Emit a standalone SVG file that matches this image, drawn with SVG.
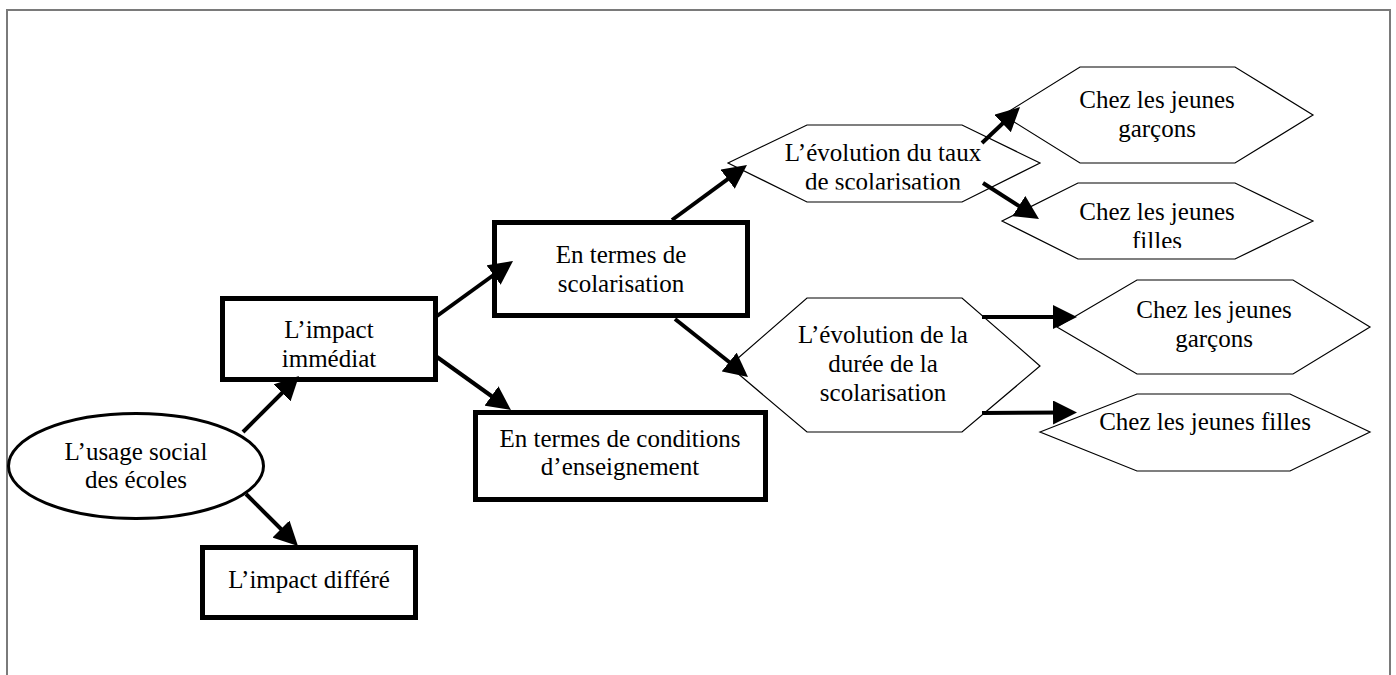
<svg xmlns="http://www.w3.org/2000/svg" width="1396" height="675" viewBox="0 0 1396 675">
<style>
.t{font-family:'Liberation Serif','DejaVu Serif',serif;font-size:25px;fill:#000;text-anchor:middle}
.box{fill:#fff;stroke:#000;stroke-width:5}
.hex{fill:#fff;stroke:#000;stroke-width:1.2;stroke-linejoin:miter}
.ell{fill:#fff;stroke:#000;stroke-width:3}
.con{fill:none;stroke:#000;stroke-width:4;marker-end:url(#ah)}
.frame{fill:none;stroke:#7a7a7a;stroke-width:2}
</style>
<defs>
<marker id="ah" markerUnits="userSpaceOnUse" markerWidth="24" markerHeight="24" refX="12" refY="12" orient="auto" viewBox="0 0 24 24">
<path d="M0,0 L24,12 L0,24 Z" fill="#000"/>
</marker>
<clipPath id="c1"><rect x="700" y="100" width="360" height="89.5"/></clipPath>
<clipPath id="c2"><rect x="990" y="170" width="340" height="78"/></clipPath>
</defs>
<rect width="1396" height="675" fill="#fff"/>
<path class="frame" d="M7,675 V10 H1390 V675"/>

<g id="nodes" font-family="Liberation Serif, DejaVu Serif, serif">
<g id="n-usage">
<ellipse class="ell" cx="136" cy="466" rx="127.5" ry="52.5"/>
<text class="t" x="136" y="460">L’usage social</text>
<text class="t" x="136" y="488">des écoles</text>
</g>

<g id="n-immediat">
<rect class="box" x="222.5" y="298.5" width="213" height="81"/>
<text class="t" x="329" y="338">L’impact</text>
<text class="t" x="329" y="367">immédiat</text>
</g>

<g id="n-differe">
<rect class="box" x="202.5" y="547.5" width="213" height="70"/>
<text class="t" x="309" y="588">L’impact différé</text>
</g>

<g id="n-scolarisation">
<rect class="box" x="494.5" y="222.5" width="253" height="93"/>
<text class="t" x="621" y="263">En termes de</text>
<text class="t" x="621" y="292">scolarisation</text>
</g>

<g id="n-conditions">
<rect class="box" x="475.5" y="412.5" width="290" height="87"/>
<text class="t" x="620" y="447">En termes de conditions</text>
<text class="t" x="620" y="475">d’enseignement</text>
</g>

<g id="n-taux">
<polygon class="hex" points="728,163 807,125 962,125 1040,163 962,202 807,202"/>
<text class="t" x="883" y="161">L’évolution du taux</text>
<text class="t" x="883" y="190" clip-path="url(#c1)">de scolarisation</text>
</g>

<g id="n-taux-garcons">
<polygon class="hex" points="1003,115 1080,67 1235,67 1313,115 1235,163 1080,163"/>
<text class="t" x="1157" y="108">Chez les jeunes</text>
<text class="t" x="1157" y="137">garçons</text>
</g>

<g id="n-taux-filles">
<polygon class="hex" points="1002,221 1078,183 1235,183 1313,221 1235,259 1078,259"/>
<text class="t" x="1157" y="220">Chez les jeunes</text>
<text class="t" x="1157" y="249" clip-path="url(#c2)">filles</text>
</g>

<g id="n-duree">
<polygon class="hex" points="729,366 807,298 962,298 1040,366 962,432 807,432"/>
<text class="t" x="883" y="343">L’évolution de la</text>
<text class="t" x="883" y="372">durée de la</text>
<text class="t" x="883" y="401">scolarisation</text>
</g>

<g id="n-duree-garcons">
<polygon class="hex" points="1057,327 1137,280 1293,280 1370,327 1293,374 1137,374"/>
<text class="t" x="1214" y="318">Chez les jeunes</text>
<text class="t" x="1214" y="347">garçons</text>
</g>

<g id="n-duree-filles">
<polygon class="hex" points="1040,432 1137,394 1290,394 1370,432 1290,471 1137,471"/>
<text class="t" x="1205" y="430">Chez les jeunes filles</text>
</g>
</g>

<g id="connectors">
<line class="con" x1="243" y1="432" x2="290.5" y2="384.5"/>
<line class="con" x1="246" y1="494" x2="289.5" y2="537.5"/>
<line class="con" x1="437" y1="316" x2="503.3" y2="268"/>
<line class="con" x1="437" y1="357" x2="501.2" y2="403"/>
<line class="con" x1="672" y1="220" x2="737.3" y2="172.1"/>
<line class="con" x1="675" y1="319" x2="738.6" y2="369.5"/>
<line class="con" x1="982" y1="143" x2="1011.3" y2="115.3"/>
<line class="con" x1="983" y1="183" x2="1028.9" y2="212.5"/>
<line class="con" x1="982" y1="317" x2="1065" y2="317"/>
<line class="con" x1="982" y1="413" x2="1065" y2="412.5"/>
</g>
</svg>
